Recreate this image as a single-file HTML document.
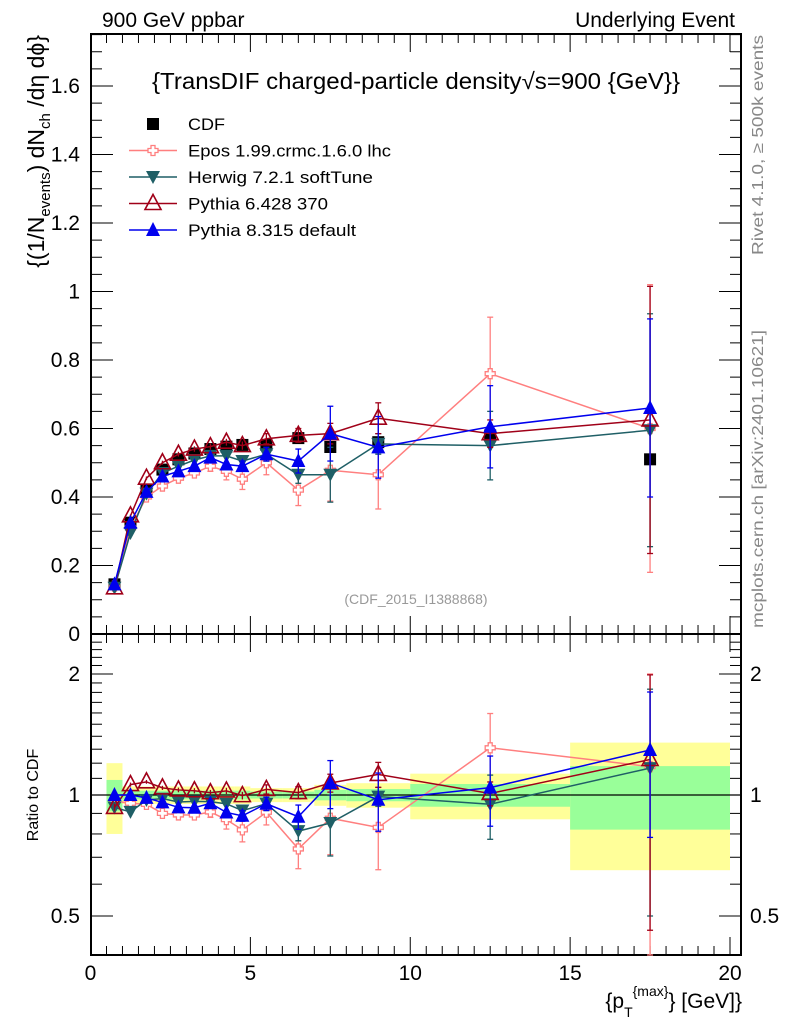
<!DOCTYPE html>
<html><head><meta charset="utf-8"><style>
body{margin:0;background:#fff;}
svg text{font-family:"Liberation Sans",sans-serif;}
</style></head><body>
<svg id="c" width="786" height="1024" xmlns="http://www.w3.org/2000/svg"></svg>
<script>
const xs=[0.75,1.25,1.75,2.25,2.75,3.25,3.75,4.25,4.75,5.5,6.5,7.5,9,12.5,17.5];
const binLo=[0.5,1,1.5,2,2.5,3,3.5,4,4.5,5,6,7,8,10,15];
const binHi=[1,1.5,2,2.5,3,3.5,4,4.5,5,6,7,8,10,15,20];
const cdf=[0.145,0.325,0.422,0.48,0.51,0.527,0.54,0.547,0.552,0.552,0.572,0.546,0.56,0.58,0.51];
const cdfStatRel=[0.09,0.025,0.025,0.025,0.025,0.025,0.025,0.025,0.025,0.02,0.02,0.03,0.035,0.065,0.18];
const cdfTotRel=[0.2,0.05,0.05,0.05,0.05,0.05,0.05,0.05,0.05,0.04,0.04,0.06,0.07,0.13,0.35];
const epos=[0.14,0.31,0.40,0.432,0.455,0.47,0.49,0.475,0.452,0.50,0.42,0.478,0.465,0.76,0.60];
const eposErr=[0.005,0.006,0.008,0.01,0.01,0.012,0.015,0.025,0.03,0.035,0.045,0.09,0.1,0.165,0.42];
const herwig=[0.135,0.295,0.41,0.47,0.49,0.508,0.52,0.52,0.505,0.525,0.465,0.465,0.555,0.55,0.595];
const herwigErr=[0.004,0.005,0.006,0.007,0.008,0.009,0.01,0.012,0.015,0.02,0.025,0.08,0.03,0.1,0.34];
const py6=[0.135,0.345,0.455,0.50,0.525,0.54,0.547,0.56,0.55,0.57,0.58,0.585,0.63,0.585,0.625];
const py6Err=[0.003,0.004,0.005,0.006,0.007,0.008,0.009,0.01,0.012,0.015,0.02,0.03,0.045,0.04,0.39];
const py8=[0.145,0.325,0.415,0.46,0.475,0.49,0.515,0.495,0.49,0.525,0.505,0.585,0.545,0.605,0.66];
const py8Err=[0.003,0.004,0.005,0.006,0.007,0.008,0.009,0.012,0.015,0.02,0.035,0.08,0.09,0.12,0.26];
const mainTicks=[0.2,0.4,0.6,0.8,1,1.2,1.4,1.6];
const mainTickLabels=["0.2","0.4","0.6","0.8","1","1.2","1.4","1.6"];
const xTicks=[0,5,10,15,20];
const xTickLabels=["0","5","10","15","20"];
const ratioTicks=[0.5,1,2];
const ratioTickLabels=["0.5","1","2"];

const NS="http://www.w3.org/2000/svg";
const svg=document.getElementById('c');
const L=91,R=741,T=34,MB=634,RB=955;
const X=v=>90.5+v*31.975;
const Y=v=>634-v*342.5;
const YR=v=>795-Math.log2(v)*121;
function el(tag,attrs,parent){const e=document.createElementNS(NS,tag);for(const k in attrs)e.setAttribute(k,attrs[k]);(parent||svg).appendChild(e);return e;}
function txt(s,attrs){const e=el('text',attrs);e.textContent=s;return e;}

const bands=el('g',{});


for(let i=0;i<xs.length;i++){
  const y1=el('rect',{x:X(binLo[i]),width:X(binHi[i])-X(binLo[i]),y:YR(1+cdfTotRel[i]),height:YR(1-cdfTotRel[i])-YR(1+cdfTotRel[i]),fill:'#ffff99'},bands);
  
  
  const g1=el('rect',{x:X(binLo[i]),width:X(binHi[i])-X(binLo[i]),y:YR(1+cdfStatRel[i]),height:YR(1-cdfStatRel[i])-YR(1+cdfStatRel[i]),fill:'#99ff99'},bands);
  
  
}
el('line',{x1:L,x2:R,y1:YR(1),y2:YR(1),stroke:'#000','stroke-width':1.3});

const f1=el('rect',{x:L,y:T,width:R-L,height:MB-T,fill:'none',stroke:'#000','stroke-width':2});

const f2=el('rect',{x:L,y:MB,width:R-L,height:RB-MB,fill:'none',stroke:'#000','stroke-width':2});


for(let v=0;v<=20.3;v+=0.5){
  const maj=Math.abs(v%5)<1e-6; const len=maj?18:9;
  for(const [top,bot] of [[T,MB],[MB,RB]]){
    el('line',{x1:X(v),x2:X(v),y1:bot,y2:bot-len,stroke:'#000','stroke-width':1});
    el('line',{x1:X(v),x2:X(v),y1:top,y2:top+len,stroke:'#000','stroke-width':1});
  }
}
xTicks.forEach((v,i)=>{const t=txt(xTickLabels[i],{x:X(v),y:980,'font-size':21,'text-anchor':'middle'});});
for(let k=0;k<=35;k++){const v=k*0.05;const maj=k%4==0;const len=maj?22:11;
  el('line',{x1:L,x2:L+len,y1:Y(v),y2:Y(v),stroke:'#000','stroke-width':1});
  el('line',{x1:R,x2:R-len,y1:Y(v),y2:Y(v),stroke:'#000','stroke-width':1});}
mainTicks.forEach((v,i)=>{const t=txt(mainTickLabels[i],{x:80,y:Y(v)+7,'font-size':21,'text-anchor':'end'});});
txt('0',{x:80,y:641,'font-size':21,'text-anchor':'end'});
const rminor=[0.4,0.5,0.6,0.7,0.8,0.9,1,1.1,1.2,1.3,1.4,1.5,1.6,1.7,1.8,1.9,2,2.1,2.2,2.3,2.4];
rminor.forEach(v=>{const maj=(v==0.5||v==1||v==2);const len=maj?22:11;const y=YR(v);if(y<MB||y>RB)return;
  el('line',{x1:L,x2:L+len,y1:y,y2:y,stroke:'#000','stroke-width':1});
  el('line',{x1:R,x2:R-len,y1:y,y2:y,stroke:'#000','stroke-width':1});});
ratioTicks.forEach((v,i)=>{const t=txt(ratioTickLabels[i],{x:80,y:YR(v)+7,'font-size':21,'text-anchor':'end'});
  txt(ratioTickLabels[i],{x:750,y:YR(v)+7,'font-size':21});});

function series(name,vals,errs,color,marker){
  const g=el('g',{});
  
  
  const pm=vals.map((v,i)=>X(xs[i])+','+Y(v)).join(' ');
  el('polyline',{points:pm,fill:'none',stroke:color,'stroke-width':1.5},g);
  const pr=vals.map((v,i)=>X(xs[i])+','+YR(v/cdf[i])).join(' ');
  el('polyline',{points:pr,fill:'none',stroke:color,'stroke-width':1.5},g);
  vals.forEach((v,i)=>{
    const x=X(xs[i]);
    const pairs=[[Y(v),Y(v+errs[i]),Y(v-errs[i])],[YR(v/cdf[i]),YR(Math.max((v+errs[i])/cdf[i],0.01)),YR(Math.max((v-errs[i])/cdf[i],0.3))]];
    pairs.forEach(([yc,yt,yb],pi)=>{
      yb=Math.min(yb,pi?RB:MB); yt=Math.max(yt,pi?MB:T);
      el('line',{x1:x,x2:x,y1:yt,y2:yb,stroke:color,'stroke-width':1.3},g);
      if(errs[i]>0.012){el('line',{x1:x-3,x2:x+3,y1:yt,y2:yt,stroke:color,'stroke-width':1.3},g);el('line',{x1:x-3,x2:x+3,y1:yb,y2:yb,stroke:color,'stroke-width':1.3},g);}
      drawMarker(g,marker,x,yc,color);
    });
  });
}
function drawMarker(g,m,x,y,c){
  let e;
  if(m=='cross'){e=el('path',{d:`M${x-2},${y-5}h4v3h3v4h-3v3h-4v-3h-3v-4h3z`,fill:'#fff',stroke:c,'stroke-width':1.3},g);}
  else if(m=='down'){e=el('polygon',{points:`${x-7},${y-6} ${x+7},${y-6} ${x},${y+7}`,fill:c},g);}
  else if(m=='upopen'){e=el('polygon',{points:`${x-8},${y+6} ${x+8},${y+6} ${x},${y-9}`,fill:'none',stroke:c,'stroke-width':1.6},g);}
  else if(m=='up'){e=el('polygon',{points:`${x-7},${y+6} ${x+7},${y+6} ${x},${y-8}`,fill:c},g);}
  else {e=el('rect',{x:x-6,y:y-6,width:12,height:12,fill:c},g);}
  
  
}
const cg=el('g',{});


cdf.forEach((v,i)=>drawMarker(cg,'sq',X(xs[i]),Y(v),'#000'));
series('epos',epos,eposErr,'#ff7f7f','cross');
series('herwig',herwig,herwigErr,'#1f5f66','down');
series('pythia6',py6,py6Err,'#a00018','upopen');
series('pythia8',py8,py8Err,'#0000ee','up');

const lg=el('g',{});


const leg=[['CDF','#000','sq',37],['Epos 1.99.crmc.1.6.0 lhc','#ff7f7f','cross',203],['Herwig 7.2.1 softTune','#1f5f66','down',185],['Pythia 6.428 370','#a00018','upopen',140],['Pythia 8.315 default','#0000ee','up',168]];
leg.forEach((l,i)=>{const y=124+i*26.5;
  if(i>0)el('line',{x1:129,x2:177,y1:y,y2:y,stroke:l[1],'stroke-width':1.5},lg);
  drawMarker(lg,l[2],153,y,l[1]);
  const t=el('text',{x:188,y:y+6,'font-size':17,textLength:l[3],lengthAdjust:'spacingAndGlyphs'},lg);t.textContent=l[0];
  });

txt('900 GeV ppbar',{x:102,y:27,'font-size':21});
txt('Underlying Event',{x:735,y:27,'font-size':21,'text-anchor':'end'});
const ti=txt('{TransDIF charged-particle density\u221As=900 {GeV}}',{x:152,y:89,'font-size':23,textLength:528,lengthAdjust:'spacingAndGlyphs'});

txt('(CDF_2015_I1388868)',{x:416,y:604,'font-size':14,fill:'#999','text-anchor':'middle'});
const yt=el('text',{transform:'translate(44,35) rotate(-90)','font-size':23,'text-anchor':'end'});

yt.innerHTML='{(1/N<tspan font-size="15" dy="6">events</tspan><tspan dy="-6">) dN</tspan><tspan font-size="15" dy="6">ch</tspan><tspan dy="-6"> /d\u03B7 d\u03D5}</tspan>';
const rt=txt('Ratio to CDF',{transform:'translate(38,795) rotate(-90)','font-size':16,'text-anchor':'middle'});

const xt=el('text',{x:742,y:1008,'font-size':21,'text-anchor':'end'});

xt.innerHTML='{p<tspan font-size="14" dy="9">T</tspan><tspan font-size="14" dy="-21">{max}</tspan><tspan dy="12">} [GeV]}</tspan>';
txt('Rivet 4.1.0, \u2265 500k events',{transform:'translate(763,255) rotate(-90)','font-size':16,fill:'#888',textLength:220,lengthAdjust:'spacingAndGlyphs'});
txt('mcplots.cern.ch [arXiv:2401.10621]',{transform:'translate(763,628) rotate(-90)','font-size':16,fill:'#888',textLength:298,lengthAdjust:'spacingAndGlyphs'});
</script>
</body></html>
